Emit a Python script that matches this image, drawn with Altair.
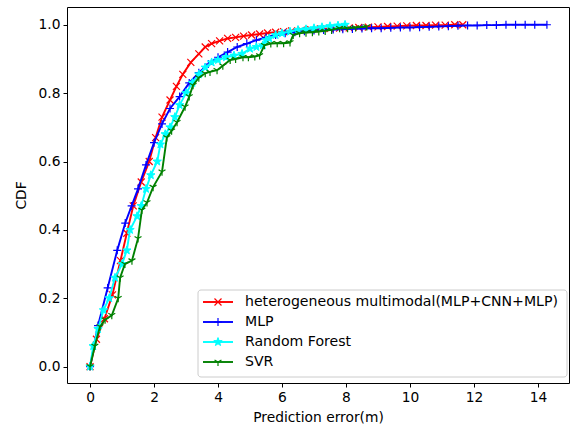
import altair as alt
import pandas as pd

series_names = ["heterogeneous multimodal(MLP+CNN+MLP)", "MLP", "Random Forest", "SVR"]
series_colors = ["#ff0000", "#0000ff", "#00ffff", "#008000"]

red_x = [0, 0.2, 0.45, 0.7, 0.95, 1.15, 1.35, 1.6, 1.85, 2.05, 2.25, 2.5, 2.7, 2.9, 3.15, 3.4,
         3.6, 3.8, 4.05, 4.3, 4.55, 4.8, 5.05, 5.3, 5.55, 5.8, 6.05, 6.3, 6.6, 6.9, 7.2, 7.5,
         7.8, 8.1, 8.4, 8.7, 9.0, 9.3, 9.6, 9.9, 10.2, 10.5, 10.8, 11.1, 11.4, 11.65]
red_y = [0, 0.08, 0.14, 0.21, 0.31, 0.39, 0.47, 0.54, 0.6, 0.67, 0.73, 0.78, 0.82, 0.855, 0.89, 0.915,
         0.935, 0.945, 0.953, 0.96, 0.963, 0.967, 0.97, 0.973, 0.976, 0.978, 0.98, 0.982, 0.984, 0.986, 0.988, 0.989,
         0.99, 0.991, 0.992, 0.993, 0.994, 0.995, 0.996, 0.997, 0.998, 0.998, 0.999, 0.999, 1.0, 1.0]

blue_x = [0, 0.25, 0.55, 0.85, 1.1, 1.3, 1.5, 1.75, 2.0, 2.25, 2.5, 2.8, 3.1, 3.4, 3.7, 4.0,
          4.3, 4.6, 4.9, 5.2, 5.5, 5.8, 6.1, 6.4, 6.7, 7.0, 7.3, 7.6, 7.9, 8.2, 8.5, 8.8,
          9.1, 9.4, 9.7, 10.0, 10.3, 10.6, 10.9, 11.2, 11.5, 11.8, 12.1, 12.4, 12.7, 13.0,
          13.3, 13.6, 13.9, 14.28]
blue_y = [0, 0.12, 0.23, 0.34, 0.42, 0.47, 0.52, 0.59, 0.655, 0.71, 0.755, 0.79, 0.83, 0.86, 0.885, 0.905,
          0.92, 0.935, 0.945, 0.955, 0.963, 0.97, 0.975, 0.978, 0.981, 0.983, 0.985, 0.986, 0.987, 0.988, 0.989, 0.99,
          0.99, 0.991, 0.992, 0.992, 0.993, 0.994, 0.995, 0.996, 0.997, 0.998, 0.998, 0.999, 0.999, 1.0,
          1.0, 1.0, 1.0, 1.0]

cyan_x = [0, 0.1, 0.25, 0.42, 0.6, 0.78, 1.0, 1.15, 1.25, 1.47, 1.6, 1.75, 1.9, 2.1, 2.2, 2.35,
          2.5, 2.65, 2.8, 3.0, 3.2, 3.4, 3.6, 3.8, 4.0, 4.25, 4.5, 4.75, 5.0, 5.2, 5.4, 5.5,
          5.6, 5.8, 6.0, 6.25, 6.5, 6.75, 7.0, 7.25, 7.5, 7.75, 7.97]
cyan_y = [0, 0.06, 0.11, 0.165, 0.2, 0.26, 0.3, 0.34, 0.4, 0.44, 0.47, 0.52, 0.56, 0.6, 0.65, 0.68,
          0.7, 0.73, 0.765, 0.8, 0.83, 0.855, 0.875, 0.89, 0.897, 0.905, 0.91, 0.915, 0.93, 0.935, 0.94, 0.955,
          0.96, 0.97, 0.975, 0.98, 0.985, 0.987, 0.99, 0.993, 0.996, 0.998, 1.0]

green_x = [0, 0.15, 0.31, 0.47, 0.68, 0.88, 0.94, 1.09, 1.31, 1.5, 1.62, 1.78, 1.97, 2.25, 2.4, 2.55,
           2.72, 2.97, 3.1, 3.22, 3.4, 3.6, 3.75, 3.97, 4.15, 4.38, 4.55, 4.78, 4.95, 5.15, 5.3, 5.45,
           5.65, 5.85, 6.05, 6.25, 6.35, 6.55, 6.75, 6.95, 7.15, 7.35, 7.55, 7.8, 8.05, 8.3, 8.65]
green_y = [0, 0.06, 0.117, 0.137, 0.15, 0.2, 0.26, 0.3, 0.31, 0.375, 0.458, 0.48, 0.525, 0.57, 0.67, 0.69,
           0.715, 0.76, 0.79, 0.823, 0.845, 0.858, 0.862, 0.867, 0.88, 0.897, 0.9, 0.905, 0.905, 0.907, 0.91, 0.94,
           0.945, 0.946, 0.946, 0.948, 0.97, 0.975, 0.977, 0.978, 0.98, 0.982, 0.985, 0.99, 0.99, 0.992, 0.995]

x_ticks = [0, 2, 4, 6, 8, 10, 12, 14]
y_ticks = [0.0, 0.2, 0.4, 0.6, 0.8, 1.0]

STAR = ("M0,-1.1L0.2645,-0.364L1.046,-0.34L0.428,0.139L0.647,0.89L0,0.45L-0.647,0.89"
        "L-0.428,0.139L-1.046,-0.34L-0.2645,-0.364Z")
plot_shapes = [
    "M-1,-1L1,1M-1,1L1,-1",
    "M-1,0L1,0M0,-1L0,1",
    STAR,
    "M0,0L0,1M0,0L-0.866,-0.5M0,0L0.866,-0.5",
]
plot_filled = [False, False, True, False]
plot_sizes = [49, 64, 64, 64]

FONT = "DejaVu Sans"
xscale = alt.Scale(domain=[-0.72, 14.97], nice=False, zero=False)
yscale = alt.Scale(domain=[-0.048, 1.052], nice=False, zero=False)

X = alt.X("err:Q", scale=xscale,
          axis=alt.Axis(title="Prediction error(m)", values=x_ticks, format="d"))
Y = alt.Y("cdf:Q", scale=yscale,
          axis=alt.Axis(title="CDF", values=y_ticks, format=".1f"))

layers = []
for i, (name, xs, ys) in enumerate(zip(series_names, [red_x, blue_x, cyan_x, green_x],
                                       [red_y, blue_y, cyan_y, green_y])):
    d = pd.DataFrame({"series": name, "err": xs, "cdf": ys})
    layers.append(
        alt.Chart(d).mark_line(strokeWidth=1.9, color=series_colors[i]).encode(x=X, y=Y)
    )
    if plot_filled[i]:
        pm = alt.Chart(d).mark_point(shape=plot_shapes[i], size=plot_sizes[i], filled=True,
                                     fill=series_colors[i], stroke=series_colors[i],
                                     strokeWidth=1, opacity=1)
    else:
        pm = alt.Chart(d).mark_point(shape=plot_shapes[i], size=plot_sizes[i], filled=False,
                                     stroke=series_colors[i], strokeWidth=1.2, opacity=1)
    layers.append(pm.encode(x=X, y=Y))

# legend (drawn inside the plot area, lower right)
one = pd.DataFrame({"k": [0]})
layers.append(
    alt.Chart(one).mark_rect(fill="white", fillOpacity=0.8, stroke="#cccccc", strokeWidth=1,
                             cornerRadius=3).encode(
        x=alt.value(131), x2=alt.value(500), y=alt.value(283), y2=alt.value(370))
)
for i, name in enumerate(series_names):
    yy = 295 + 20 * i
    layers.append(
        alt.Chart(one).mark_rule(color=series_colors[i], strokeWidth=1.9).encode(
            x=alt.value(136), x2=alt.value(166), y=alt.value(yy))
    )
    if plot_filled[i]:
        lm = alt.Chart(one).mark_point(shape=plot_shapes[i], size=plot_sizes[i], filled=True,
                                       fill=series_colors[i], stroke=series_colors[i],
                                       strokeWidth=1, opacity=1)
    else:
        lm = alt.Chart(one).mark_point(shape=plot_shapes[i], size=plot_sizes[i], filled=False,
                                       stroke=series_colors[i], strokeWidth=1.2, opacity=1)
    layers.append(lm.encode(x=alt.value(151), y=alt.value(yy)))
    ld = pd.DataFrame({"label": [name]})
    layers.append(
        alt.Chart(ld).mark_text(align="left", baseline="middle", font=FONT, fontSize=14.1,
                                color="black").encode(
            text="label:N", x=alt.value(178), y=alt.value(yy))
    )

chart = alt.layer(*layers).properties(
    width=502, height=376,
    autosize=alt.AutoSizeParams(type="none"),
    padding={"left": 67, "top": 7, "right": 3, "bottom": 46},
    background="white",
).configure_view(
    stroke="black", strokeWidth=1
).configure_axis(
    grid=False, domain=False,
    tickColor="black", tickSize=4, tickWidth=1,
    labelFont=FONT, labelFontSize=13.8, labelColor="black",
    titleFont=FONT, titleFontSize=13.8, titleColor="black", titleFontWeight="normal",
    labelPadding=3,
).configure_axisX(
    titlePadding=7,
).configure_axisY(
    titlePadding=10,
)

chart.save("out.html", embed_options={"renderer": "svg", "actions": False})
